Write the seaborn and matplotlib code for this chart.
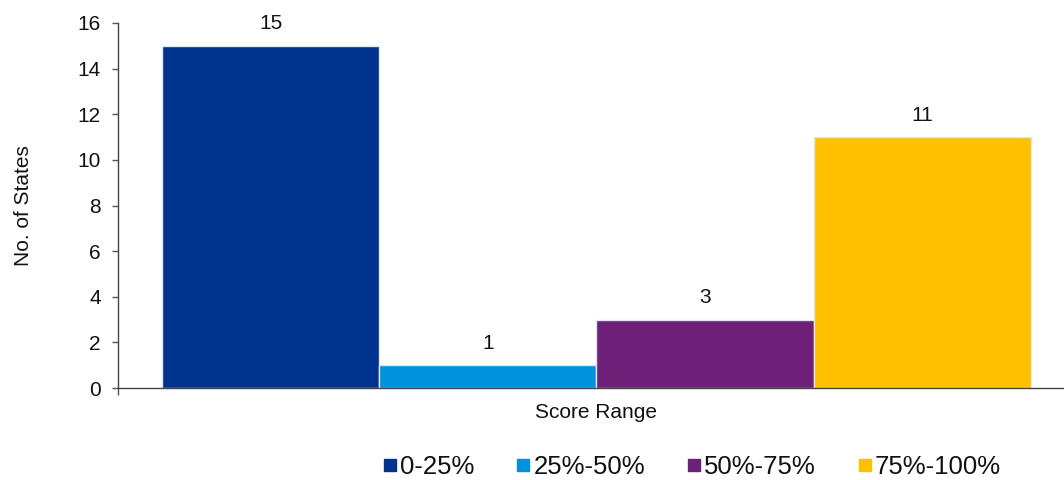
import pandas as pd
import matplotlib.pyplot as plt
import seaborn as sns
from matplotlib.lines import Line2D

ranges = ['0-25%', '25%-50%', '50%-75%', '75%-100%']
states = [15, 1, 3, 11]
category = 'Score Range'
colors = ['#00338D', '#0091DA', '#6D2077', '#FFC000']

df = pd.DataFrame({'Categoria': [category] * len(ranges), 'Faixa': ranges, 'Estados': states})

sns.set_theme(style='white')
plt.rcParams['font.family'] = ['Liberation Sans', 'DejaVu Sans']

fig = plt.figure(figsize=(10.64, 4.8), dpi=100)
ax = fig.add_axes([118 / 1064, 92 / 480, 946 / 1064, 365 / 480])

sns.barplot(data=df, x='Categoria', y='Estados', hue='Faixa', hue_order=ranges,
            palette=colors, saturation=1, width=0.8, edgecolor='#dfe6f0', linewidth=1,
            legend=False, ax=ax)

for c in ax.containers:
    ax.bar_label(c, padding=9, fontsize=15, color='#111111')

ax.set_ylim(0, 16)
ax.set_yticks(range(0, 17, 2))
ax.set_xlim(-0.4405, 0.4304)
ax.set_xticks([0])
ax.set_xticklabels([category])
ax.set_xticks([-0.4405], minor=True)
ax.tick_params(axis='x', which='major', length=0, pad=11, labelsize=15, labelcolor='#111111')
ax.tick_params(axis='x', which='minor', length=5, width=1, color='#555555', bottom=True)
ax.tick_params(axis='y', length=4.5, width=1, color='#555555', left=True, labelsize=15,
               pad=8, labelcolor='#111111')
ax.set_xlabel('')
ax.set_ylabel('No. of States', fontsize=15, labelpad=32, color='#111111')

for s in ['top', 'right']:
    ax.spines[s].set_visible(False)
for s in ['left', 'bottom']:
    ax.spines[s].set_color('#444444')
    ax.spines[s].set_linewidth(1)

handles = [Line2D([], [], marker='s', linestyle='', markersize=8, color=c) for c in colors]
fig.legend(handles, ranges, loc='center', bbox_to_anchor=(0.65, 0.027), ncol=4,
           frameon=False, fontsize=18.5, handletextpad=0.1, columnspacing=1.6,
           handlelength=0.6, labelcolor='#111111')

plt.savefig('out.png', dpi=100)
plt.close()
